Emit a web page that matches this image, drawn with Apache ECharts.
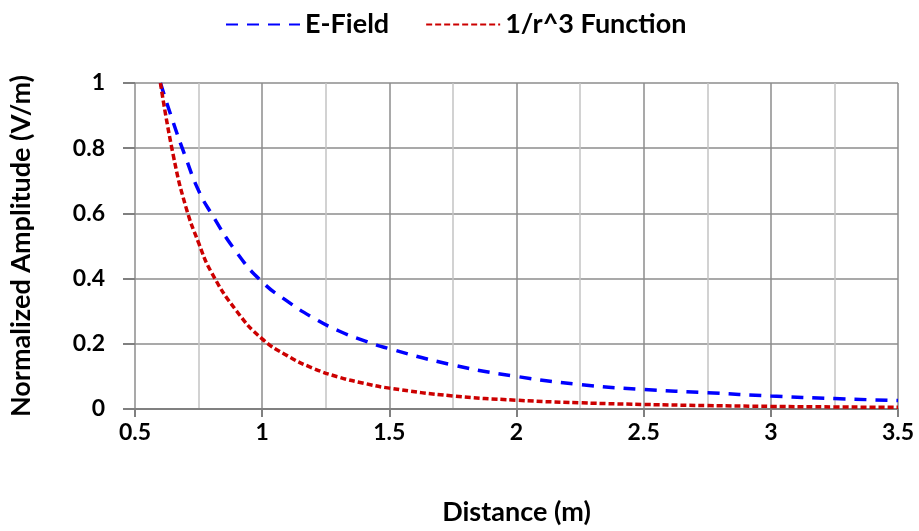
<!DOCTYPE html>
<html lang="en">
  <head>
    <meta charset="UTF-8" />
    <title>E-Field vs 1/r^3</title>
    <style>
      html, body {
        margin: 0;
        padding: 0;
        width: 100%;
        height: 100%;
        overflow: hidden;
        background: #fff;
      }
      #chart {
        width: 919px;
        height: 531px;
      }
    </style>
    <script src="https://cdn.jsdelivr.net/npm/echarts@6/dist/echarts.min.js"></script>
  </head>
  <body>
    <div id="chart"></div>
    <script>
      // distances (m)
      const distance = [0.6, 0.65, 0.7, 0.75, 0.8, 0.9, 1.0, 1.1, 1.2, 1.3, 1.4, 1.5,
                        1.75, 2.0, 2.25, 2.5, 2.75, 3.0, 3.25, 3.5];
      // values
      const eField = [1.0, 0.88, 0.77, 0.67, 0.6, 0.48, 0.39, 0.33, 0.28, 0.24, 0.21, 0.185,
                      0.135, 0.1, 0.075, 0.06, 0.05, 0.04, 0.032, 0.026];
      const invCube = [1.0, 0.78, 0.62, 0.51, 0.42, 0.3, 0.215, 0.163, 0.125, 0.098, 0.079, 0.064,
                       0.04, 0.027, 0.019, 0.014, 0.0105, 0.008, 0.0063, 0.005];
      const seriesNames = ["E-Field", "1/r^3 Function"];

      const font = "Lato, 'Open Sans', sans-serif";
      const chart = echarts.init(document.getElementById("chart"));

      const pairs = (ys) => distance.map((x, i) => [x, ys[i]]);

      const option = {
        animation: false,
        textStyle: { fontFamily: font },
        legend: {
          top: 6,
          left: 220,
          itemWidth: 74,
          itemHeight: 14,
          itemGap: 36,
          itemStyle: { opacity: 0 },
          textStyle: { fontSize: 27, fontWeight: "bold", color: "#000", fontFamily: font },
          data: seriesNames
        },
        grid: { left: 130, right: 21, top: 83, bottom: 122 },
        xAxis: {
          type: "value",
          min: 0.5,
          max: 3.5,
          interval: 0.5,
          name: "Distance (m)",
          nameLocation: "middle",
          nameGap: 90,
          nameTextStyle: { fontSize: 27, fontWeight: "bold", color: "#000", fontFamily: font },
          axisLine: { show: true, lineStyle: { color: "#808080", width: 2 } },
          axisTick: { show: true, length: 8, lineStyle: { color: "#808080", width: 2 } },
          axisLabel: { fontSize: 23, fontWeight: "bold", color: "#000", margin: 12 },
          splitLine: { show: true, lineStyle: { color: "#8c8c8c", width: 1.5 } },
          minorTick: { show: false, splitNumber: 2 },
          minorSplitLine: { show: true, lineStyle: { color: "#c4c4c4", width: 1.5 } }
        },
        yAxis: {
          type: "value",
          min: 0,
          max: 1,
          interval: 0.2,
          name: "Normalized Amplitude (V/m)",
          nameLocation: "middle",
          nameGap: 100,
          nameTextStyle: { fontSize: 27, fontWeight: "bold", color: "#000", fontFamily: font },
          axisLine: { show: false },
          axisTick: { show: true, length: 12, lineStyle: { color: "#808080", width: 2 } },
          axisLabel: { fontSize: 23, fontWeight: "bold", color: "#000", margin: 30 },
          splitLine: { show: true, lineStyle: { color: "#8c8c8c", width: 1.5 } }
        },
        series: [
          {
            name: seriesNames[0],
            type: "line",
            smooth: true,
            symbol: "none",
            data: pairs(eField),
            itemStyle: { color: "#0000ff" },
            lineStyle: { color: "#0000ff", width: 3.5, type: [12, 9] }
          },
          {
            name: seriesNames[1],
            type: "line",
            smooth: true,
            symbol: "none",
            data: pairs(invCube),
            itemStyle: { color: "#cc0000" },
            lineStyle: { color: "#cc0000", width: 3.5, type: [6, 3] }
          }
        ]
      };

      chart.setOption(option);
    </script>
  </body>
</html>
